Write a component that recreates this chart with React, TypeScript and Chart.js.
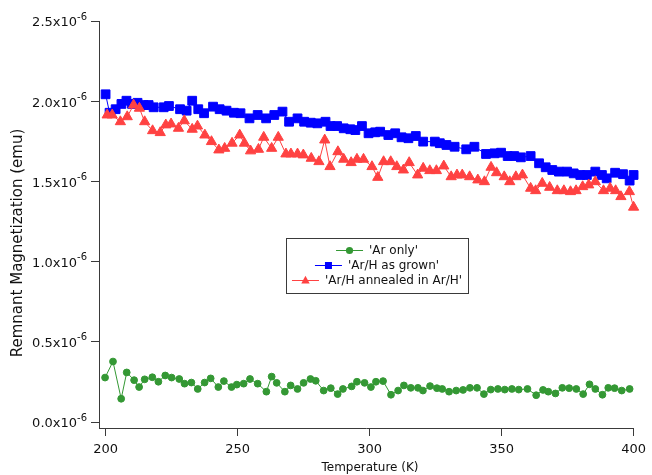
import React, { useEffect, useRef } from 'react';
import { Chart, registerables } from 'chart.js';

Chart.register(...registerables);

// Values in units of 1e-6 emu, temperature in K
const xTicks = [200, 250, 300, 350, 400];
const yTicks = [0, 0.5, 1.0, 1.5, 2.0, 2.5];
const yTickExponent = '-6';
const xTitle = 'Temperature (K)';
const yTitle = 'Remnant Magnetization (emu)';
const seriesNames = ["'Ar only'", "'Ar/H as grown'", "'Ar/H annealed in Ar/H'"];

const arOnly: [number, number][] = [
  [199.8, 0.277], [202.8, 0.377], [205.9, 0.145], [208.0, 0.309], [210.8, 0.261], [212.7, 0.218],
  [214.8, 0.266], [217.7, 0.279], [220.0, 0.251], [222.6, 0.29], [225.0, 0.277], [227.9, 0.268],
  [229.9, 0.239], [232.5, 0.246], [234.9, 0.206], [237.5, 0.246], [239.8, 0.272], [242.7, 0.218],
  [244.8, 0.255], [247.7, 0.218], [249.7, 0.233], [252.3, 0.239], [254.7, 0.268], [257.6, 0.239],
  [260.9, 0.189], [262.9, 0.283], [264.8, 0.244], [267.9, 0.189], [270.1, 0.228], [272.7, 0.206],
  [275.0, 0.244], [277.6, 0.268], [279.6, 0.257], [282.6, 0.196], [285.3, 0.211], [287.9, 0.174],
  [289.9, 0.206], [293.2, 0.222], [295.2, 0.251], [298.1, 0.244], [300.5, 0.218], [302.4, 0.251],
  [305.1, 0.255], [308.1, 0.17], [310.8, 0.196], [313.0, 0.228], [315.6, 0.213], [318.3, 0.213],
  [320.2, 0.196], [322.9, 0.224], [325.5, 0.211], [327.5, 0.206], [330.1, 0.189], [332.8, 0.196],
  [335.4, 0.2], [338.0, 0.213], [340.7, 0.213], [343.3, 0.174], [345.9, 0.202], [348.6, 0.206],
  [351.2, 0.202], [353.9, 0.206], [356.5, 0.202], [359.8, 0.206], [363.1, 0.167], [365.7, 0.2],
  [367.7, 0.189], [370.4, 0.178], [373.0, 0.213], [375.6, 0.211], [378.3, 0.206], [380.9, 0.174],
  [383.3, 0.235], [385.5, 0.206], [388.2, 0.17], [390.4, 0.213], [392.8, 0.211], [395.5, 0.196],
  [398.5, 0.206],
];

const arHGrown: [number, number][] = [
  [200.0, 2.043], [201.5, 1.928], [203.8, 1.95], [206.0, 1.983], [207.9, 2.003], [210.0, 1.983],
  [212.1, 1.99], [214.4, 1.976], [216.3, 1.976], [218.2, 1.962], [222.0, 1.962], [224.0, 1.97],
  [228.2, 1.95], [230.7, 1.941], [232.8, 2.003], [235.1, 1.95], [237.3, 1.925], [240.7, 1.966],
  [243.2, 1.95], [245.8, 1.941], [248.6, 1.928], [251.1, 1.925], [254.5, 1.893], [257.6, 1.914],
  [260.8, 1.893], [263.9, 1.914], [267.0, 1.935], [269.5, 1.872], [272.7, 1.893], [275.2, 1.872],
  [277.7, 1.866], [280.2, 1.862], [283.3, 1.872], [285.2, 1.845], [287.7, 1.845], [290.2, 1.831],
  [292.7, 1.825], [294.6, 1.82], [297.1, 1.845], [299.6, 1.8], [302.1, 1.806], [304.0, 1.81],
  [307.1, 1.789], [309.7, 1.8], [312.1, 1.775], [314.7, 1.769], [317.5, 1.783], [320.3, 1.748],
  [324.7, 1.748], [326.6, 1.738], [329.1, 1.727], [332.2, 1.716], [336.6, 1.7], [339.7, 1.716],
  [344.1, 1.671], [347.3, 1.675], [349.8, 1.679], [352.3, 1.658], [354.8, 1.658], [357.3, 1.65],
  [361.0, 1.658], [364.2, 1.613], [366.7, 1.588], [369.2, 1.571], [371.7, 1.561], [374.8, 1.561],
  [377.3, 1.55], [379.8, 1.54], [382.3, 1.54], [385.5, 1.561], [388.0, 1.54], [389.8, 1.519],
  [393.0, 1.554], [396.0, 1.545], [398.5, 1.505], [400.0, 1.54],
];

const arHAnnealed: [number, number][] = [
  [200.6, 1.914], [202.5, 1.914], [205.6, 1.872], [208.2, 1.903], [210.6, 1.976], [212.8, 1.956],
  [214.8, 1.872], [217.8, 1.816], [220.7, 1.804], [222.8, 1.852], [224.8, 1.858], [227.6, 1.831],
  [229.8, 1.878], [232.8, 1.825], [234.8, 1.845], [237.6, 1.789], [240.1, 1.748], [242.9, 1.696],
  [245.1, 1.706], [247.9, 1.738], [250.8, 1.789], [252.6, 1.738], [254.9, 1.69], [257.9, 1.7],
  [259.9, 1.775], [262.9, 1.706], [265.4, 1.775], [268.3, 1.671], [270.2, 1.671], [272.7, 1.671],
  [274.9, 1.665], [277.9, 1.644], [280.8, 1.623], [283.0, 1.758], [285.0, 1.592], [288.0, 1.685],
  [290.2, 1.638], [293.0, 1.617], [295.2, 1.638], [297.7, 1.638], [300.9, 1.592], [303.1, 1.525],
  [305.3, 1.623], [308.0, 1.623], [310.3, 1.592], [312.8, 1.571], [315.0, 1.617], [318.2, 1.54],
  [320.3, 1.582], [322.8, 1.567], [325.3, 1.567], [328.1, 1.596], [330.9, 1.529], [333.1, 1.54],
  [335.1, 1.54], [337.9, 1.529], [341.0, 1.509], [343.5, 1.498], [346.0, 1.588], [348.1, 1.554],
  [351.0, 1.529], [353.1, 1.498], [355.4, 1.529], [357.9, 1.54], [361.0, 1.457], [362.9, 1.442],
  [365.4, 1.488], [368.2, 1.463], [371.1, 1.442], [373.6, 1.442], [376.1, 1.436], [378.2, 1.442],
  [380.7, 1.467], [383.0, 1.478], [385.5, 1.498], [388.6, 1.442], [391.1, 1.457], [393.2, 1.442],
  [395.2, 1.405], [398.4, 1.436], [400.0, 1.339],
];

const GREEN = 'rgb(52,152,52)';
const BLUE = 'rgb(0,0,255)';
const RED = 'rgb(255,66,66)';
const AXIS = '#3a3a3a';
const TEXT = '#111';
const FONT = '"DejaVu Sans", sans-serif';

const colors = [GREEN, BLUE, RED];
const styles = ['circle', 'rect', 'triangle'];

function drawMarker(ctx: CanvasRenderingContext2D, style: string, x: number, y: number, s: number) {
  ctx.beginPath();
  if (style === 'circle') {
    ctx.arc(x, y, s, 0, Math.PI * 2);
  } else if (style === 'rect') {
    ctx.rect(x - s, y - s, 2 * s, 2 * s);
  } else {
    ctx.moveTo(x, y - s * 1.15);
    ctx.lineTo(x + s, y + s * 0.7);
    ctx.lineTo(x - s, y + s * 0.7);
    ctx.closePath();
  }
  ctx.fill();
}

const decorPlugin = {
  id: 'decor',
  afterDraw(chart: any) {
    const ctx: CanvasRenderingContext2D = chart.ctx;
    const yScale = chart.scales.y;
    ctx.save();
    ctx.fillStyle = TEXT;

    // y tick labels with superscript exponent
    const labelRight = yScale.right - 12;
    yTicks.forEach((v) => {
      const py = yScale.getPixelForValue(v);
      ctx.textAlign = 'right';
      ctx.textBaseline = 'middle';
      ctx.font = `10px ${FONT}`;
      const ew = ctx.measureText(yTickExponent).width;
      ctx.fillText(yTickExponent, labelRight, py - 4);
      ctx.font = `13px ${FONT}`;
      ctx.fillText(`${v.toFixed(1)}x10`, labelRight - ew, py + 2);
    });

    // y-axis title
    ctx.font = `15px ${FONT}`;
    ctx.textAlign = 'center';
    ctx.textBaseline = 'middle';
    ctx.save();
    ctx.translate(18, 243);
    ctx.rotate(-Math.PI / 2);
    ctx.fillText(yTitle, 0, 0);
    ctx.restore();
    // x-axis title
    ctx.font = `12px ${FONT}`;
    ctx.fillText(xTitle, 370, 468);

    // legend box
    const bx = 286, by = 238, bw = 182, bh = 55;
    ctx.fillStyle = '#fff';
    ctx.fillRect(bx, by, bw, bh);
    ctx.strokeStyle = AXIS;
    ctx.lineWidth = 1;
    ctx.strokeRect(bx + 0.5, by + 0.5, bw, bh);
    ctx.font = `12px ${FONT}`;
    ctx.textAlign = 'left';
    const cx = bx + bw / 2;
    const rows = [250, 265, 280];
    const symW = 27, gap = 6;
    const sizes = [3.6, 3.5, 4.2];
    seriesNames.forEach((name, i) => {
      const tw = ctx.measureText(name).width;
      const start = cx - (symW + gap + tw) / 2;
      const y = rows[i];
      ctx.strokeStyle = colors[i];
      ctx.beginPath();
      ctx.moveTo(start, y + 0.5);
      ctx.lineTo(start + symW, y + 0.5);
      ctx.stroke();
      ctx.fillStyle = colors[i];
      drawMarker(ctx, styles[i], start + symW / 2, y + 0.5, sizes[i]);
      ctx.fillStyle = TEXT;
      ctx.fillText(name, start + symW + gap, y + 1);
    });
    ctx.restore();
  },
};

export default function App() {
  const ref = useRef<HTMLCanvasElement | null>(null);

  useEffect(() => {
    document.body.style.margin = '0';
    const canvas = ref.current;
    if (!canvas) return;
    const mk = (data: [number, number][], i: number, r: number, order: number) => ({
      label: seriesNames[i],
      data: data.map(([x, y]) => ({ x, y })),
      borderColor: colors[i],
      backgroundColor: colors[i],
      pointBackgroundColor: colors[i],
      pointBorderColor: colors[i],
      pointBorderWidth: 1,
      pointStyle: styles[i],
      pointRadius: r,
      borderWidth: 1,
      tension: 0,
      clip: false,
      order,
    });
    const chart = new Chart(canvas, {
      type: 'line',
      data: {
        datasets: [
          mk(arOnly, 0, 3.4, 3),
          mk(arHGrown, 1, 6.2, 2),
          mk(arHAnnealed, 2, 5.9, 1),
        ] as any,
      },
      options: {
        responsive: false,
        animation: false,
        events: [],
        layout: { padding: { top: 21, right: 15, bottom: 0, left: 0 } },
        plugins: { legend: { display: false }, tooltip: { enabled: false } },
        scales: {
          x: {
            type: 'linear',
            min: 197.5,
            max: 400,
            afterBuildTicks: (s: any) => { s.ticks = xTicks.map((v) => ({ value: v })); },
            afterFit: (s: any) => { s.height = 47; },
            grid: { drawOnChartArea: false, drawTicks: true, tickLength: 8, tickColor: AXIS, tickWidth: 1 },
            border: { color: AXIS, width: 1 },
            ticks: { color: TEXT, font: { family: FONT, size: 13 }, padding: 6, maxRotation: 0, autoSkip: false },
          },
          y: {
            type: 'linear',
            min: -0.0374,
            max: 2.5,
            afterBuildTicks: (s: any) => { s.ticks = yTicks.map((v) => ({ value: v })); },
            afterFit: (s: any) => { s.width = 99; },
            grid: { drawOnChartArea: false, drawTicks: true, tickLength: 8, tickColor: AXIS, tickWidth: 1 },
            border: { color: AXIS, width: 1 },
            ticks: { display: false },
          },
        },
      } as any,
      plugins: [decorPlugin],
    });
    return () => chart.destroy();
  }, []);

  return (
    <div style={{ width: 652, height: 475 }}>
      <canvas ref={ref} width={652} height={475} style={{ display: 'block' }} />
    </div>
  );
}
